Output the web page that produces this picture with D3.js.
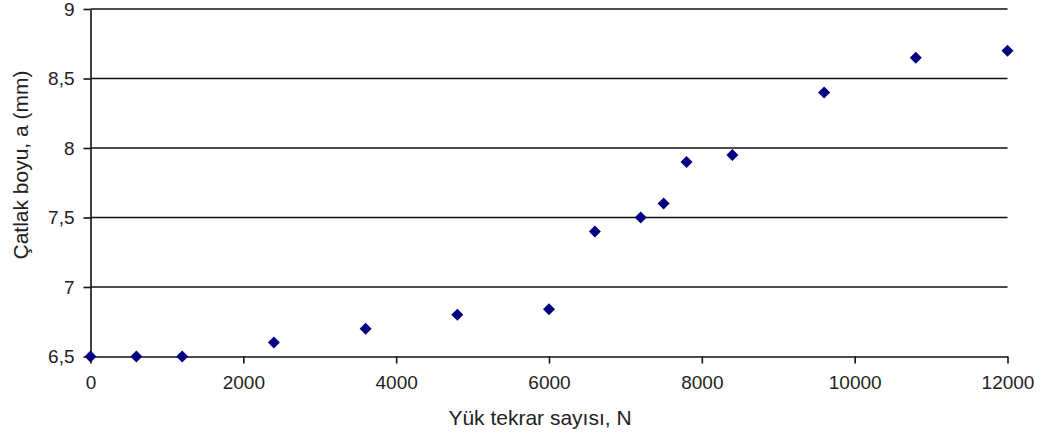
<!DOCTYPE html>
<html>
<head>
<meta charset="utf-8">
<script src="https://cdn.jsdelivr.net/npm/d3@7/dist/d3.min.js"></script>
<style>
  html, body { margin: 0; padding: 0; background: #fff; }
  svg { display: block; font-family: "Liberation Sans", Arial, sans-serif; }
</style>
</head>
<body>
<svg id="chart" width="1045" height="441"></svg>
<script>
// Load cycles N and measured crack length a (mm)
const cycles = [0, 600, 1200, 2400, 3600, 4800, 6000, 6600, 7200, 7500, 7800, 8400, 9600, 10800, 12000];
const crackLength = [6.5, 6.5, 6.5, 6.6, 6.7, 6.8, 6.84, 7.4, 7.5, 7.6, 7.9, 7.95, 8.4, 8.65, 8.7];
const xTicks = [0, 2000, 4000, 6000, 8000, 10000, 12000];
const yTicks = [6.5, 7, 7.5, 8, 8.5, 9];
const xTitle = "Yük tekrar sayısı, N";
const yTitle = "Çatlak boyu, a (mm)";

const svg = d3.select("#chart");
const plot = { left: 90.5, right: 1007.5, top: 9, bottom: 356.5 };

const x = d3.scaleLinear().domain([0, 12000]).range([plot.left, plot.right]);
const y = d3.scaleLinear().domain([6.5, 9]).range([plot.bottom, plot.top]);

const fmtY = d => String(d).replace(".", ",");

// Horizontal gridlines
svg.append("g")
  .selectAll("line")
  .data(yTicks.filter(t => t !== 6.5))
  .join("line")
  .attr("x1", plot.left).attr("x2", plot.right)
  .attr("y1", d => y(d)).attr("y2", d => y(d))
  .attr("stroke", "#111").attr("stroke-width", 1.6);

// Y axis
const yAxis = svg.append("g")
  .attr("transform", `translate(${plot.left},0)`)
  .call(d3.axisLeft(y).tickValues(yTicks).tickFormat(fmtY).tickSize(7).tickPadding(9).tickSizeOuter(0));

// X axis
const xAxis = svg.append("g")
  .attr("transform", `translate(0,${plot.bottom})`)
  .call(d3.axisBottom(x).tickValues(xTicks).tickFormat(d3.format("d")).tickSize(7).tickPadding(12).tickSizeOuter(0));

[yAxis, xAxis].forEach(g => {
  g.select(".domain").attr("stroke", "#111").attr("stroke-width", 1.6);
  g.selectAll(".tick line").attr("stroke", "#111").attr("stroke-width", 1.6);
  g.selectAll(".tick text").attr("fill", "#222").attr("font-size", 19)
    .attr("font-family", "'Liberation Sans', Arial, sans-serif");
});

// Data markers (diamonds)
const diamond = "M0,-6L6,0L0,6L-6,0Z";
svg.append("g")
  .selectAll("path")
  .data(cycles.map((c, i) => [c, crackLength[i]]))
  .join("path")
  .attr("d", diamond)
  .attr("transform", d => `translate(${x(d[0])},${y(d[1])})`)
  .attr("fill", "#000080");

// Axis titles
svg.append("text")
  .attr("x", 540).attr("y", 425)
  .attr("text-anchor", "middle")
  .attr("font-size", 21)
  .attr("fill", "#222")
  .text(xTitle);

svg.append("text")
  .attr("transform", "translate(28,165) rotate(-90)")
  .attr("text-anchor", "middle")
  .attr("font-size", 21)
  .attr("fill", "#222")
  .text(yTitle);
</script>
</body>
</html>
